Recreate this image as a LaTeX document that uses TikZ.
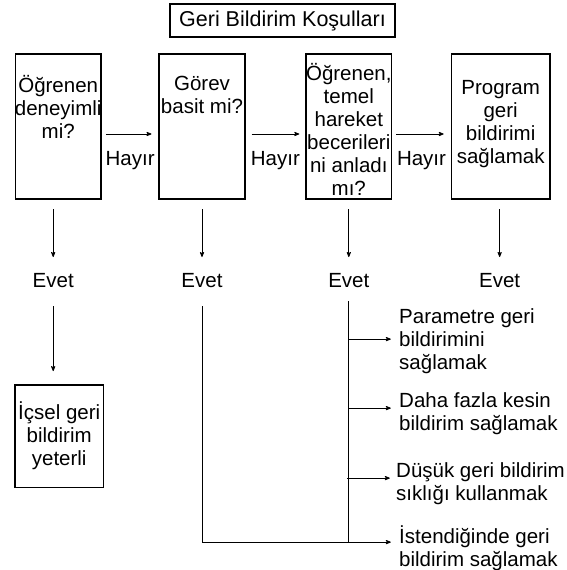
\documentclass[tikz,border=0pt]{standalone}
\usepackage{fontspec}
\setmainfont{Liberation Sans}
\usetikzlibrary{arrows,positioning}

\begin{document}
\begin{tikzpicture}[x=1pt,y=-1pt,->,>=stealth',line width=0.8pt,
    every node/.style={inner sep=0pt,font=\fontsize{20.5}{23}\selectfont},
    qbox/.style={draw,line width=1.6pt,minimum width=85.5pt,minimum height=145.4pt},
    qtext/.style={align=center},
    choice/.style={align=left},
    hayir/.style={below=17pt}]
  \useasboundingbox (0,0) rectangle (567,570);
  \node[draw,line width=1.6pt,minimum width=225pt,minimum height=33.5pt,
        font=\fontsize{21.5}{24}\selectfont] (title) at (282.5,20.5) {Geri Bildirim Koşulları};
  \node[qbox] (q1) at (58.2,126.5) {};
  \node[qbox,right=56.7pt of q1] (q2) {};
  \node[qbox,right=59.7pt of q2] (q3) {};
  \node[qbox,right=58.3pt of q3,minimum width=98.4pt] (q4) {};
  \node[qtext,below=22pt of q1.north] (t1) {Öğrenen\\deneyimli\\mi?};
  \node[qtext,below=22.3pt of q2.north] (t2) {Görev\\basit mi?};
  \node[qtext,below=10pt of q3.north] (t3) {Öğrenen,\\temel\\hareket\\becerileri\\ni anladı\\mı?};
  \node[qtext,below=27pt of q4.north] (t4) {Program\\geri\\bildirimi\\sağlamak};
  \draw[shorten <=4pt,shorten >=7pt] ([yshift=-7.5pt]q1.east) -- node[hayir]{Hayır} ([yshift=-7.5pt]q2.west);
  \draw[shorten <=6pt,shorten >=6pt] ([yshift=-7.5pt]q2.east) -- node[hayir]{Hayır} ([yshift=-7.5pt]q3.west);
  \draw[shorten <=4pt,shorten >=7pt] ([yshift=-7.5pt]q3.east) -- node[hayir]{Hayır} ([yshift=-7.5pt]q4.west);
  \node[below=73pt of q1,xshift=-5pt] (e1) {Evet};
  \node[below=73pt of q2] (e2) {Evet};
  \node[below=73pt of q3] (e3) {Evet};
  \node[below=73pt of q4,xshift=-1pt] (e4) {Evet};
  \draw[shorten <=9pt,shorten >=16pt] (q1.south -| e1) -- (e1);
  \draw[shorten <=9pt,shorten >=16pt] (q2.south -| e2) -- (e2);
  \draw[shorten <=9pt,shorten >=16pt] (q3.south -| e3) -- (e3);
  \draw[shorten <=9pt,shorten >=16pt] (q4.south -| e4) -- (e4);
  % evet branch of the first question
  \node[draw,line width=1.6pt,minimum width=88.4pt,minimum height=102.4pt,align=center,
        below=96pt of e1,xshift=6pt] (icsel) {İçsel geri\\bildirim\\yeterli};
  \draw[shorten <=18pt,shorten >=13pt] (e1) -- (e1 |- icsel.north);
  % evet branches of the second and third questions
  \coordinate[below=51pt of e3.south] (b1);
  \coordinate[below=120pt of e3.south] (b2);
  \coordinate[below=190pt of e3.south] (b3);
  \coordinate[below=254pt of e3.south] (b4);
  \node[choice,right=50pt of b1,yshift=-2.3pt] (a1) {Parametre geri\\bildirimini\\sağlamak};
  \node[choice,right=50pt of b2,yshift=-6pt] (a2) {Daha fazla kesin\\bildirim sağlamak};
  \node[choice,right=47pt of b3,yshift=-6pt] (a3) {Düşük geri bildirim\\sıklığı kullanmak};
  \node[choice,right=50pt of b4,yshift=-6.4pt] (a4) {İstendiğinde geri\\bildirim sağlamak};
  \draw[-,shorten <=13pt] (e3) -- (b4);
  \draw[shorten <=18pt,shorten >=8pt] (e2) |- (b4 -| a4.west);
  \draw[shorten >=8pt] (b1) -- (b1 -| a1.west);
  \draw[shorten >=8pt] (b2) -- (b2 -| a2.west);
  \draw[shorten >=6pt] ([xshift=-2pt]b3) -- (b3 -| a3.west);
\end{tikzpicture}
\end{document}
